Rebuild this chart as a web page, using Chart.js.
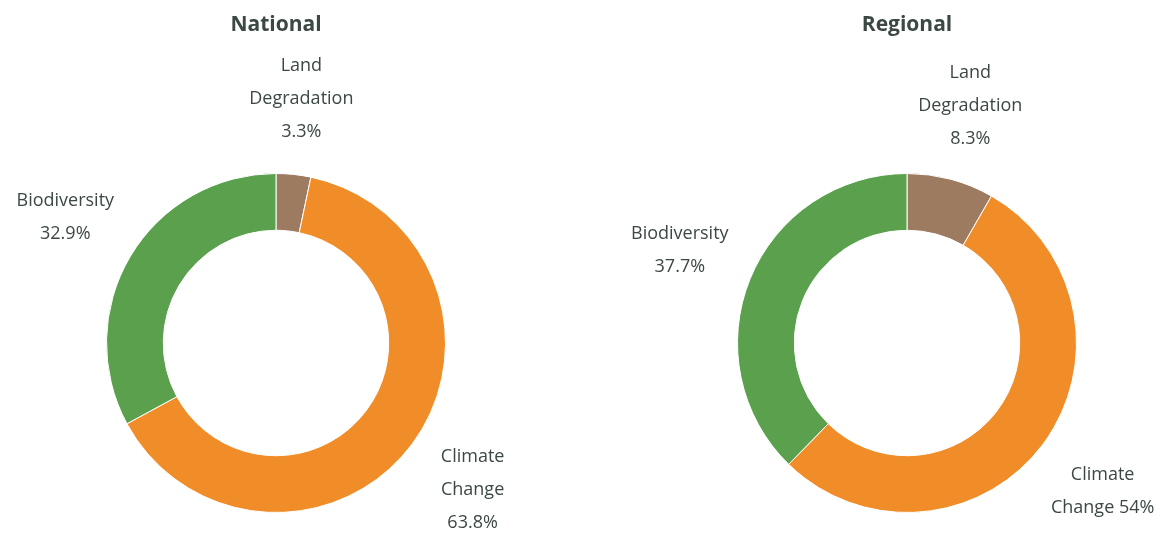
<!DOCTYPE html>
<html>
<head>
<meta charset="utf-8">
<script src="https://cdn.jsdelivr.net/npm/chart.js@4.4.1/dist/chart.umd.min.js"></script>
<style>
  html, body { margin: 0; padding: 0; background: #fff; }
  .box { position: absolute; top: 0; width: 581px; height: 534px; }
</style>
</head>
<body>
<div class="box" style="left:0"><canvas id="national"></canvas></div>
<div class="box" style="left:581px"><canvas id="regional"></canvas></div>
<script>
const categories = ["Land Degradation", "Climate Change", "Biodiversity"];
const colors = ["#9d7b61", "#f08d29", "#5ba14d"];

const nationalValues = [3.3, 63.8, 32.9];
const regionalValues = [8.3, 54, 37.7];

// how each label is broken into lines (value text added by the plugin)
const nationalLines = [["Land", "Degradation", "{v}"], ["Climate", "Change", "{v}"], ["Biodiversity", "{v}"]];
const regionalLines = [["Land", "Degradation", "{v}"], ["Climate", "Change {v}"], ["Biodiversity", "{v}"]];

const textColor = "#3c4843";
const fontFamily = "'Open Sans', 'Noto Sans', sans-serif";

const outsideLabels = {
    id: "outsideLabels",
    afterDatasetsDraw(chart, args, opts) {
        const ctx = chart.ctx;
        const meta = chart.getDatasetMeta(0);
        const values = chart.data.datasets[0].data;
        ctx.save();
        ctx.fillStyle = textColor;
        ctx.textAlign = "center";
        ctx.textBaseline = "middle";

        // title
        const cx = meta.data[0].x;
        ctx.font = "bold 21px " + fontFamily;
        ctx.fillText(opts.title, cx, 25);

        ctx.font = "18px " + fontFamily;
        meta.data.forEach((arc, i) => {
            const mid = (arc.startAngle + arc.endAngle) / 2;
            const r = arc.outerRadius * 1.447;
            const x = arc.x + Math.cos(mid) * r;
            const y = arc.y + Math.sin(mid) * r;
            const lines = opts.lines[i].map(s => s.replace("{v}", values[i] + "%"));
            const lh = 33;
            lines.forEach((ln, k) => {
                ctx.fillText(ln, x, y + (k - (lines.length - 1) / 2) * lh);
            });
        });
        ctx.restore();
    }
};

function makeDonut(id, title, values, lines, padding) {
    new Chart(document.getElementById(id), {
        type: "doughnut",
        data: {
            labels: categories,
            datasets: [{
                data: values,
                backgroundColor: colors,
                borderColor: "#ffffff",
                borderWidth: 1
            }]
        },
        options: {
            responsive: true,
            maintainAspectRatio: false,
            animation: false,
            cutout: "66.5%",
            layout: { padding: padding },
            plugins: {
                legend: { display: false },
                tooltip: { enabled: false },
                outsideLabels: { title: title, lines: lines }
            }
        },
        plugins: [outsideLabels]
    });
}

makeDonut("national", "National", nationalValues, nationalLines, { left: 106, right: 135, top: 173, bottom: 21 });
makeDonut("regional", "Regional", regionalValues, regionalLines, { left: 156, right: 85, top: 173, bottom: 21 });
</script>
</body>
</html>
